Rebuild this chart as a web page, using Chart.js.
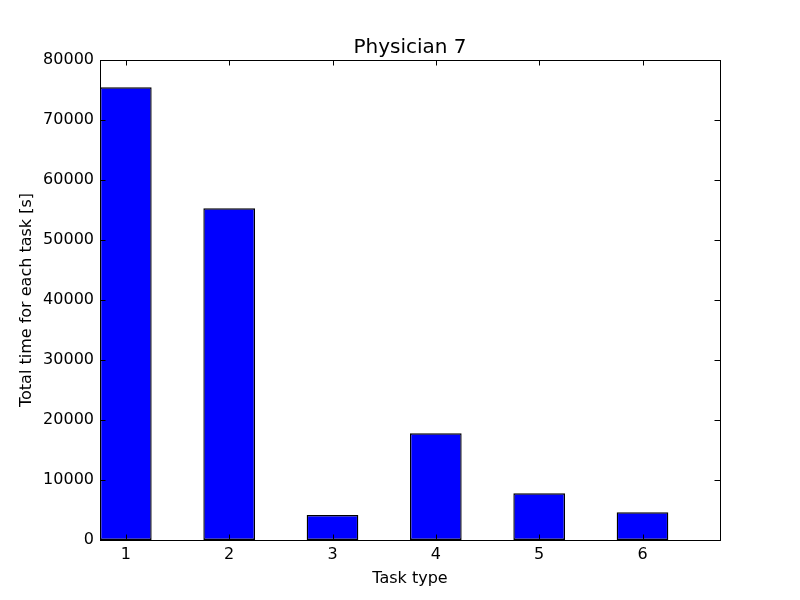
<!DOCTYPE html>
<html lang="en">
    <head>
        <meta charset="UTF-8">
        <title>Physician 7</title>
        <style>
            html, body {
                margin: 0;
                padding: 0;
                background: #fff;
            }
            #chart-container {
                width: 800px;
                height: 600px;
            }
        </style>
    </head>
    <body>
        <div id="chart-container">
            <canvas id="taskChart" width="800" height="600"></canvas>
        </div>

        <script src="https://cdn.jsdelivr.net/npm/chart.js"></script>
        <script>
            const taskTypes = [1, 2, 3, 4, 5, 6];
            const totalTimes = [75450, 55280, 4170, 17780, 7780, 4610];
            const xTicks = [1, 2, 3, 4, 5, 6];
            const yTicks = [0, 10000, 20000, 30000, 40000, 50000, 60000, 70000, 80000];

            const FONT = 'DejaVu Sans';

            // matplotlib-like frame with inward ticks on all four sides
            const framePlugin = {
                id: 'frame',
                afterDraw(chart) {
                    const {ctx, chartArea: a, scales} = chart;
                    const len = 5.5;
                    ctx.save();
                    ctx.strokeStyle = '#000';
                    ctx.lineWidth = 1;
                    ctx.beginPath();
                    xTicks.forEach(v => {
                        const x = Math.round(scales.x.getPixelForValue(v)) + 0.5;
                        ctx.moveTo(x, a.bottom);
                        ctx.lineTo(x, a.bottom - len);
                        ctx.moveTo(x, a.top);
                        ctx.lineTo(x, a.top + len);
                    });
                    yTicks.forEach(v => {
                        const y = Math.round(scales.y.getPixelForValue(v)) + 0.5;
                        ctx.moveTo(a.left, y);
                        ctx.lineTo(a.left + len, y);
                        ctx.moveTo(a.right, y);
                        ctx.lineTo(a.right - len, y);
                    });
                    ctx.stroke();
                    ctx.strokeRect(Math.round(a.left) + 0.5, Math.round(a.top) + 0.5,
                        Math.round(a.right - a.left), Math.round(a.bottom - a.top));
                    ctx.restore();
                }
            };

            const ctx = document.getElementById('taskChart').getContext('2d');
            new Chart(ctx, {
                type: 'bar',
                data: {
                    datasets: [{
                        data: taskTypes.map((t, i) => ({x: t, y: totalTimes[i]})),
                        backgroundColor: '#0000ff',
                        borderColor: '#000000',
                        borderWidth: 1.4,
                        borderSkipped: false,
                        inflateAmount: 0,
                        categoryPercentage: 1,
                        barPercentage: 0.5
                    }]
                },
                options: {
                    responsive: false,
                    animation: false,
                    devicePixelRatio: 1,
                    layout: {
                        padding: {left: 0, right: 80, top: 0, bottom: 0}
                    },
                    plugins: {
                        legend: {display: false},
                        tooltip: {enabled: false},
                        title: {
                            display: true,
                            fullSize: false,
                            text: 'Physician 7',
                            color: '#000',
                            font: {family: FONT, size: 20, weight: 'normal'},
                            padding: {top: 36, bottom: 0}
                        }
                    },
                    scales: {
                        x: {
                            type: 'linear',
                            offset: false,
                            min: 0.75,
                            max: 6.75,
                            grid: {display: false, drawTicks: false, offset: false},
                            border: {display: false},
                            afterBuildTicks: scale => {
                                scale.ticks = xTicks.map(v => ({value: v}));
                            },
                            afterFit: scale => {
                                scale.height = 60;
                            },
                            ticks: {
                                color: '#000',
                                padding: 5,
                                maxRotation: 0,
                                autoSkip: false,
                                font: {family: FONT, size: 16},
                                callback: v => String(v)
                            },
                            title: {
                                display: true,
                                text: 'Task type',
                                color: '#000',
                                font: {family: FONT, size: 16},
                                padding: {top: 0, bottom: 12}
                            }
                        },
                        y: {
                            min: 0,
                            max: 80000,
                            grid: {display: false, drawTicks: false},
                            border: {display: false},
                            afterBuildTicks: scale => {
                                scale.ticks = yTicks.map(v => ({value: v}));
                            },
                            afterFit: scale => {
                                scale.width = 100;
                            },
                            ticks: {
                                color: '#000',
                                padding: 6,
                                font: {family: FONT, size: 16},
                                callback: v => String(v)
                            },
                            title: {
                                display: true,
                                text: 'Total time for each task [s]',
                                color: '#000',
                                font: {family: FONT, size: 16},
                                padding: {top: 17, bottom: 0}
                            }
                        }
                    }
                },
                plugins: [framePlugin]
            });
        </script>
    </body>
</html>
